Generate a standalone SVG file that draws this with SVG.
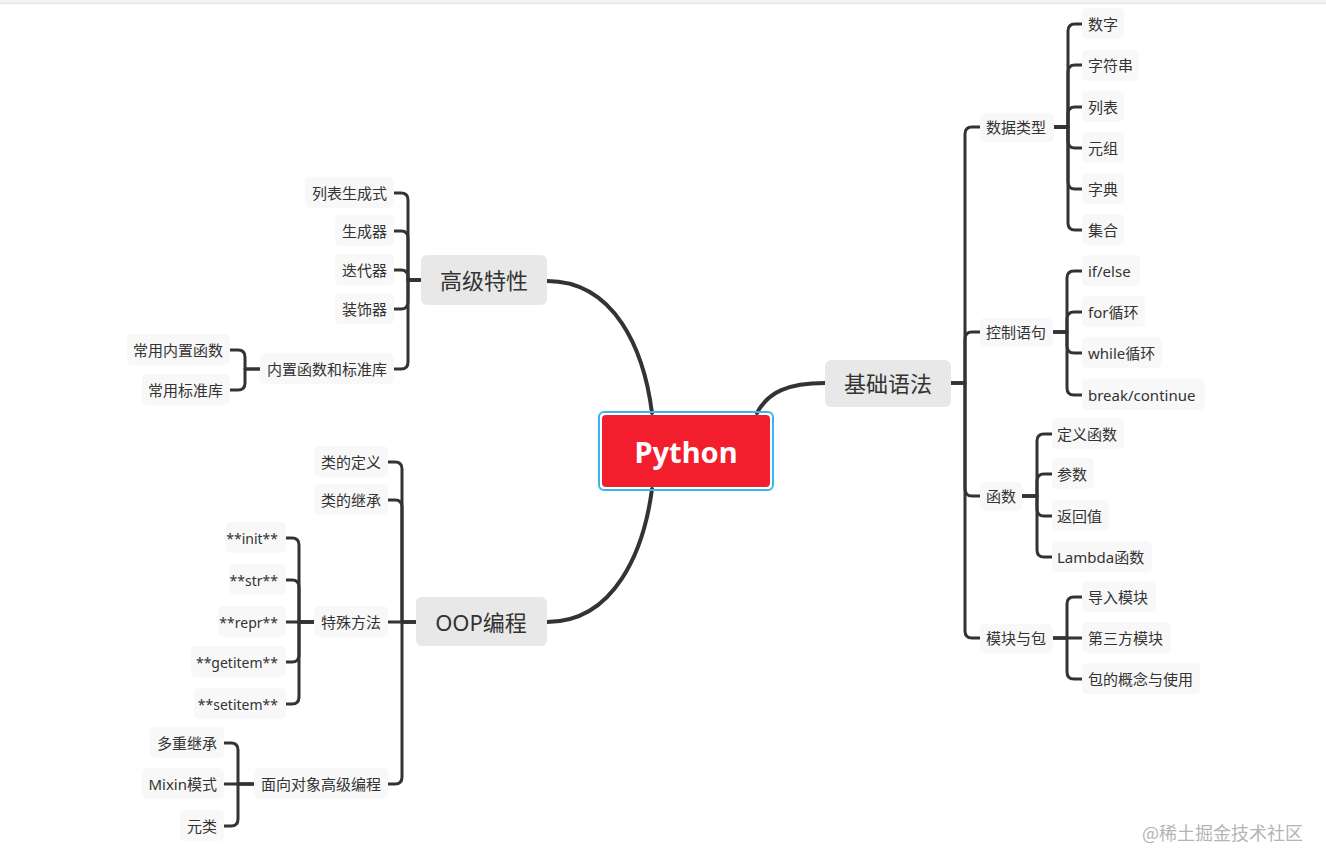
<svg xmlns="http://www.w3.org/2000/svg" width="1326" height="866" viewBox="0 0 1326 866">
<style>
.c{fill:none;stroke:#333;stroke-width:3;stroke-linecap:round;stroke-linejoin:round}
.m{fill:none;stroke:#333;stroke-width:4;stroke-linecap:round}
.leaf rect{fill:#f8f8f8}
.leaf text{font-family:"Noto Sans","Noto Sans CJK SC",sans-serif;font-size:15px;fill:#333;dominant-baseline:central}
.main rect{fill:#e8e8e8}
.main text{font-family:"Noto Sans","Noto Sans CJK SC",sans-serif;font-size:22px;fill:#333;dominant-baseline:central;text-anchor:middle}
.r text{text-anchor:end}
.leaf text.s{font-size:14px}
</style>
<rect x="0" y="0" width="1326" height="4" fill="#f2f2f2"/>
<line x1="0" y1="3.5" x2="1326" y2="3.5" stroke="#e4e4e4" stroke-width="1"/>
<g id="connectors">
<path class="m" d="M757,413 C768,392 788,383 825,383"/>
<path class="m" d="M547,281 C615,281 644,350 652,413"/>
<path class="m" d="M652,489 C644,550 615,622 547,622"/>
<path class="c" d="M951,383 H965 V134 Q965,127 972,127 H980"/>
<path class="c" d="M951,383 H965 V339 Q965,332 972,332 H980"/>
<path class="c" d="M951,383 H965 V489 Q965,496 972,496 H980"/>
<path class="c" d="M951,383 H965 V631 Q965,638 972,638 H980"/>
<path class="c" d="M1054,127 H1068 V31 Q1068,24 1075,24 H1082"/>
<path class="c" d="M1054,127 H1068 V72 Q1068,65 1075,65 H1082"/>
<path class="c" d="M1054,127 H1068 V114 Q1068,107 1075,107 H1082"/>
<path class="c" d="M1054,127 H1068 V141 Q1068,148 1075,148 H1082"/>
<path class="c" d="M1054,127 H1068 V182 Q1068,189 1075,189 H1082"/>
<path class="c" d="M1054,127 H1068 V223 Q1068,230 1075,230 H1082"/>
<path class="c" d="M1053,332 H1067 V278 Q1067,271 1074,271 H1082"/>
<path class="c" d="M1053,332 H1067 V319 Q1067,312 1074,312 H1082"/>
<path class="c" d="M1053,332 H1067 V346 Q1067,353 1074,353 H1082"/>
<path class="c" d="M1053,332 H1067 V388 Q1067,395 1074,395 H1082"/>
<path class="c" d="M1022,496 H1037 V441 Q1037,434 1044,434 H1052"/>
<path class="c" d="M1022,496 H1037 V481 Q1037,474 1044,474 H1052"/>
<path class="c" d="M1022,496 H1037 V509 Q1037,516 1044,516 H1052"/>
<path class="c" d="M1022,496 H1037 V550 Q1037,557 1044,557 H1052"/>
<path class="c" d="M1053,638 H1067 V604 Q1067,597 1074,597 H1082"/>
<path class="c" d="M1053,638 H1082"/>
<path class="c" d="M1053,638 H1067 V672 Q1067,679 1074,679 H1082"/>
<path class="c" d="M421,280 H408 V200 Q408,193 401,193 H394"/>
<path class="c" d="M421,280 H408 V238 Q408,231 401,231 H394"/>
<path class="c" d="M421,280 H408 V277 Q408,270 401,270 H394"/>
<path class="c" d="M421,280 H408 V302 Q408,309 401,309 H394"/>
<path class="c" d="M421,280 H408 V362 Q408,369 401,369 H394"/>
<path class="c" d="M260,369 H245 V357 Q245,350 238,350 H230"/>
<path class="c" d="M260,369 H245 V383 Q245,390 238,390 H230"/>
<path class="c" d="M416,622 H402 V469 Q402,462 395,462 H388"/>
<path class="c" d="M416,622 H402 V507 Q402,500 395,500 H388"/>
<path class="c" d="M416,622 H388"/>
<path class="c" d="M416,622 H402 V777 Q402,784 395,784 H388"/>
<path class="c" d="M314,622 H299 V545 Q299,538 292,538 H286"/>
<path class="c" d="M314,622 H299 V587 Q299,580 292,580 H286"/>
<path class="c" d="M314,622 H286"/>
<path class="c" d="M314,622 H299 V655 Q299,662 292,662 H286"/>
<path class="c" d="M314,622 H299 V697 Q299,704 292,704 H286"/>
<path class="c" d="M254,784 H238 V750 Q238,743 231,743 H224"/>
<path class="c" d="M254,784 H224"/>
<path class="c" d="M254,784 H238 V819 Q238,826 231,826 H224"/>
</g>
<g id="python">
<rect x="599" y="412" width="174" height="78" rx="5" fill="none" stroke="#3ab6ee" stroke-width="2"/>
<rect x="602" y="415" width="168" height="72" rx="4" fill="#f21e2e"/>
<text x="686" y="451" font-family="Noto Sans, Open Sans, sans-serif" font-size="29" font-weight="bold" fill="#fff" text-anchor="middle" dominant-baseline="central">Python</text>
</g>
<g id="jichuyufa" class="main"><rect x="825" y="360" width="126" height="47" rx="6"/><text x="888" y="383">基础语法</text></g>
<g id="gaojitexing" class="main"><rect x="421" y="255" width="126" height="50" rx="6"/><text x="484" y="280">高级特性</text></g>
<g id="oop" class="main"><rect x="416" y="597" width="131" height="49" rx="6"/><text x="481" y="622">OOP编程</text></g>

<g id="shujuleixing" class="leaf"><rect x="980" y="113" width="74" height="29" rx="5"/><text x="986" y="127">数据类型</text></g>
<g id="kongzhiyuju" class="leaf"><rect x="980" y="318" width="73" height="29" rx="5"/><text x="986" y="332">控制语句</text></g>
<g id="hanshu" class="leaf"><rect x="980" y="482" width="42" height="29" rx="5"/><text x="986" y="496">函数</text></g>
<g id="mokuaiyubao" class="leaf"><rect x="980" y="624" width="73" height="29" rx="5"/><text x="986" y="638">模块与包</text></g>

<g id="shuzi" class="leaf"><rect x="1082" y="8" width="42" height="31" rx="5"/><text x="1088" y="24">数字</text></g>
<g id="zifuchuan" class="leaf"><rect x="1082" y="50" width="57" height="31" rx="5"/><text x="1088" y="65">字符串</text></g>
<g id="liebiao" class="leaf"><rect x="1082" y="91" width="42" height="31" rx="5"/><text x="1088" y="107">列表</text></g>
<g id="yuanzu" class="leaf"><rect x="1082" y="132" width="42" height="31" rx="5"/><text x="1088" y="148">元组</text></g>
<g id="zidian" class="leaf"><rect x="1082" y="173" width="42" height="31" rx="5"/><text x="1088" y="189">字典</text></g>
<g id="jihe" class="leaf"><rect x="1082" y="214" width="42" height="31" rx="5"/><text x="1088" y="230">集合</text></g>

<g id="ifelse" class="leaf"><rect x="1082" y="255" width="58" height="31" rx="5"/><text x="1088" y="271">if/else</text></g>
<g id="for" class="leaf"><rect x="1082" y="296" width="63" height="31" rx="5"/><text x="1088" y="312">for循环</text></g>
<g id="while" class="leaf"><rect x="1082" y="337" width="80" height="31" rx="5"/><text x="1088" y="353">while循环</text></g>
<g id="break" class="leaf"><rect x="1082" y="379" width="123" height="31" rx="5"/><text x="1088" y="395">break/continue</text></g>

<g id="dingyihanshu" class="leaf"><rect x="1052" y="418" width="72" height="31" rx="5"/><text x="1057" y="434">定义函数</text></g>
<g id="canshu" class="leaf"><rect x="1052" y="458" width="42" height="31" rx="5"/><text x="1057" y="474">参数</text></g>
<g id="fanhuizhi" class="leaf"><rect x="1052" y="500" width="57" height="31" rx="5"/><text x="1057" y="516">返回值</text></g>
<g id="lambda" class="leaf"><rect x="1052" y="541" width="100" height="31" rx="5"/><text x="1057" y="557">Lambda函数</text></g>

<g id="daorumokuai" class="leaf"><rect x="1082" y="581" width="74" height="31" rx="5"/><text x="1088" y="597">导入模块</text></g>
<g id="disanfang" class="leaf"><rect x="1082" y="622" width="89" height="31" rx="5"/><text x="1088" y="638">第三方模块</text></g>
<g id="baodegainian" class="leaf"><rect x="1082" y="663" width="118" height="31" rx="5"/><text x="1088" y="679">包的概念与使用</text></g>

<g id="liebiaoshengcheng" class="leaf r"><rect x="305" y="177" width="89" height="31" rx="5"/><text x="387" y="193">列表生成式</text></g>
<g id="shengchengqi" class="leaf r"><rect x="335" y="215" width="59" height="31" rx="5"/><text x="387" y="231">生成器</text></g>
<g id="diedaiqi" class="leaf r"><rect x="335" y="254" width="59" height="31" rx="5"/><text x="387" y="270">迭代器</text></g>
<g id="zhuangshiqi" class="leaf r"><rect x="335" y="293" width="59" height="31" rx="5"/><text x="387" y="309">装饰器</text></g>
<g id="neizhi" class="leaf r"><rect x="260" y="353" width="134" height="31" rx="5"/><text x="387" y="369">内置函数和标准库</text></g>
<g id="changyongneizhi" class="leaf r"><rect x="127" y="334" width="103" height="31" rx="5"/><text x="223" y="350">常用内置函数</text></g>
<g id="changyongbiaozhun" class="leaf r"><rect x="142" y="374" width="88" height="31" rx="5"/><text x="223" y="390">常用标准库</text></g>

<g id="leidedingyi" class="leaf r"><rect x="314" y="446" width="74" height="31" rx="5"/><text x="381" y="462">类的定义</text></g>
<g id="leidejicheng" class="leaf r"><rect x="314" y="484" width="74" height="31" rx="5"/><text x="381" y="500">类的继承</text></g>
<g id="teshufangfa" class="leaf r"><rect x="314" y="606" width="74" height="31" rx="5"/><text x="381" y="622">特殊方法</text></g>
<g id="mianxiang" class="leaf r"><rect x="254" y="768" width="134" height="31" rx="5"/><text x="381" y="784">面向对象高级编程</text></g>

<g id="init" class="leaf r"><rect x="226" y="522" width="60" height="31" rx="5"/><text class="s" x="278" y="538">**init**</text></g>
<g id="str" class="leaf r"><rect x="229" y="564" width="57" height="31" rx="5"/><text class="s" x="278" y="580">**str**</text></g>
<g id="repr" class="leaf r"><rect x="218" y="606" width="68" height="31" rx="5"/><text class="s" x="278" y="622">**repr**</text></g>
<g id="getitem" class="leaf r"><rect x="191" y="646" width="95" height="31" rx="5"/><text class="s" x="278" y="662">**getitem**</text></g>
<g id="setitem" class="leaf r"><rect x="194" y="688" width="92" height="31" rx="5"/><text class="s" x="278" y="704">**setitem**</text></g>

<g id="duochong" class="leaf r"><rect x="150" y="727" width="74" height="31" rx="5"/><text x="217" y="743">多重继承</text></g>
<g id="mixin" class="leaf r"><rect x="142" y="768" width="82" height="31" rx="5"/><text x="217" y="784">Mixin模式</text></g>
<g id="yuanlei" class="leaf r"><rect x="180" y="810" width="44" height="31" rx="5"/><text x="217" y="826">元类</text></g>

<text x="1303" y="832" font-family="Noto Sans CJK SC, sans-serif" font-size="18" fill="#b4b4b4" text-anchor="end" dominant-baseline="central">@稀土掘金技术社区</text>
</svg>
